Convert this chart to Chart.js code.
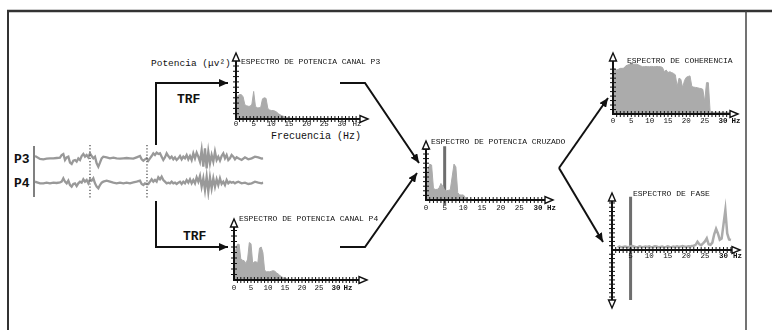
<!DOCTYPE html>
<html>
<head>
<meta charset="utf-8">
<script src="https://cdn.jsdelivr.net/npm/chart.js@4.4.1/dist/chart.umd.min.js"></script>
<style>
html, body { margin: 0; padding: 0; background: #fff; }
#stage { position: relative; width: 772px; height: 330px; overflow: hidden; font-family: "Liberation Mono", monospace; color: #111; }
#stage canvas { position: absolute; }
#stage svg { position: absolute; left: 0; top: 0; }
.lbl { position: absolute; white-space: nowrap; line-height: 1; }
.big { font-size: 13px; font-weight: bold; }
</style>
</head>
<body>
<div id="stage">
  <svg width="772" height="330">
    <defs>
      <marker id="ah" viewBox="0 0 9 8" refX="9" refY="4" markerWidth="9" markerHeight="8" markerUnits="userSpaceOnUse" orient="auto">
        <path d="M0,0 L9,4 L0,8 z" fill="#111"/>
      </marker>
    </defs>
    <!-- frame -->
    <path d="M7,11 H772" stroke="#333" stroke-width="2.5"/>
    <path d="M8,10 V330" stroke="#333" stroke-width="2"/>
    <path d="M746,11 V330" stroke="#444" stroke-width="1.5"/>
    <!-- connectors -->
    <polyline points="156,145 156,83 228,83" fill="none" stroke="#111" stroke-width="2" marker-end="url(#ah)"/>
    <polyline points="156,201 156,247 228,247" fill="none" stroke="#111" stroke-width="2" marker-end="url(#ah)"/>
    <polyline points="340,83 365,83 419,163" fill="none" stroke="#111" stroke-width="2" marker-end="url(#ah)"/>
    <polyline points="340,247 365,247 417,173" fill="none" stroke="#111" stroke-width="2" marker-end="url(#ah)"/>
    <polyline points="559,168 608,98" fill="none" stroke="#111" stroke-width="2" marker-end="url(#ah)"/>
    <polyline points="559,168 603,242" fill="none" stroke="#111" stroke-width="2" marker-end="url(#ah)"/>
  </svg>
  <div class="lbl" style="left:151px;top:58.5px;font-size:9.5px;">Potencia (&mu;v&sup2;)</div>
  <div class="lbl" style="left:271px;top:131.5px;font-size:10px;">Frecuencia (Hz)</div>
  <div class="lbl big" style="left:177px;top:93.3px;">TRF</div>
  <div class="lbl big" style="left:183px;top:230.3px;">TRF</div>
  <div class="lbl big" style="left:14px;top:153.3px;">P3</div>
  <div class="lbl big" style="left:14px;top:176.8px;">P4</div>
</div>
<script>
// frequency bins (Hz) shared by every spectrum
const freqHz = [0,0.5,1,1.5,2,2.5,3,3.5,4,4.5,5,5.5,6,6.5,7,7.5,8,8.5,9,9.5,10,10.5,11,11.5,12,12.5,13,13.5,14,14.5,15,15.5,16,16.5,17,17.5,18,18.5,19,19.5,20,20.5,21,21.5,22,22.5,23,23.5,24,24.5,25,25.5,26,26.5,27,27.5,28,28.5,29,29.5,30,30.5,31,31.5,32,32.5,33];

const powerP3 = [4.0,4.4,4.6,4.6,4.2,2.7,2.5,2.4,2.4,2.8,5.2,2.4,2.1,2.1,2.2,3.8,4.0,3.9,2.0,1.7,1.6,1.6,1.5,1.3,1.0,0.8,0.6,0.5,0.4,0.3,0.2,0.15,0.15,0.1,0.1,0.05,0.05,0,0,0,0,0,0,0,0,0,0,0,0,0,0,0,0,0,0,0,0,0,0,0,0,0,0,0,0,0,0];
const powerP4 = [1.0,5.5,6.5,6.5,3.8,3.6,3.5,3.0,3.8,6.8,6.6,3.0,3.3,3.3,3.1,5.8,6.0,5.0,1.8,1.5,1.5,1.5,1.6,1.7,1.6,1.3,1.1,0.8,0.6,0.4,0.3,0.25,0.15,0.1,0.05,0,0,0,0,0,0,0,0,0,0,0,0,0,0,0,0,0,0,0,0,0,0,0,0,0,0,0,0,0,0,0,0];
const crossPower = [1.0,6.5,7.8,7.6,2.5,2.3,2.3,2.6,3.6,3.0,2.2,2.0,2.1,2.2,5.0,7.8,7.2,1.6,1.1,1.1,1.1,0.6,0.2,0.05,0,0,0,0,0,0,0,0,0,0,0,0,0,0,0,0,0,0,0,0,0,0,0,0,0,0,0,0,0,0,0,0,0,0,0,0,0,0,0,0,0,0,0];
const coherence = [0.815,0.81,0.785,0.80,0.815,0.815,0.82,0.86,0.875,0.885,0.89,0.89,0.89,0.89,0.875,0.86,0.845,0.845,0.85,0.845,0.845,0.85,0.845,0.845,0.85,0.845,0.845,0.83,0.755,0.785,0.74,0.755,0.74,0.725,0.70,0.49,0.64,0.62,0.47,0.60,0.655,0.67,0.68,0.49,0.48,0.475,0.47,0.46,0.455,0.44,0.22,0.56,0.56,0.03,0.03,0.03,0.03,0.03,0.03,0.03,0.03,0.03,0.03,0.03,0.03,0.03,0.03];
const phaseDeg = [null,null,null,9,12,10,11,12,11,10,13,14,12,10,11,13,10,11,12,11,13,10,11,13,12,10,11,12,10,11,13,11,10,12,11,13,11,12,14,12,11,13,12,14,15,18,29,20,17,23,30,41,20,18,26,55,74,58,36,40,90,140,58,37,35,null,null];
const markerHz = 5;
const freqLabels = [0,5,10,15,20,25,30];
const phaseFreqLabels = [5,10,15,20,25,30];

// EEG segments P3 / P4 (sample index, amplitude)
const eegSample = [0,15,25,35,45,55,65,75,80,85,90,95,100,105,110,115,120,125,130,135,140,145,150,155,160,165,170,175,180,185,190,195,200,205,215,225,235,245,255,265,275,285,295,305,315,320,325,330,335,
  340,345,350,355,360,365,370,375,380,385,390,395,400,405,410,415,420,425,430,435,440,445,450,455,460,465,470,475,480,485,490,495,500,505,510,515,520,525,530,535,540,545,550,555,560,565,570,575,580,585,590,595,600,605,610,620,630,640,650,660,670,680,685];
const eegP3 = [7,-2,-3,-1,0,0,1,2,10,13,-5,3,5,-13,-17,-7,-5,-10,0,-5,7,13,5,10,3,15,7,0,5,-15,-25,-13,0,5,3,0,2,0,-1,0,1,0,-1,3,7,-3,-7,-3,0,
  -7,0,7,15,10,17,13,15,5,-5,3,15,7,0,5,-3,3,-5,0,7,-3,5,0,10,-3,7,-5,15,0,17,5,-10,25,-25,30,-30,20,-15,10,-10,20,-5,5,-7,7,15,0,10,-5,0,10,5,-3,3,0,-5,3,-3,0,5,3,-1,0];
const eegP4 = [3,-2,-2,0,-2,0,-1,1,3,13,3,-2,6,-7,-12,-4,-2,-10,-2,3,0,10,3,8,-2,10,6,13,-2,-12,-17,-7,0,3,6,3,0,-2,0,-2,0,-2,1,3,6,-4,-7,-2,-4,
  -4,3,10,3,8,3,16,10,18,8,3,-2,0,-2,3,-2,0,-4,0,3,-4,3,-2,8,0,10,-2,8,-2,16,3,20,-12,13,-22,18,-27,16,-17,13,-12,10,-7,13,-4,3,-7,8,-2,3,0,2,-2,1,3,-2,0,-4,-2,3,0,-2,0];
const epochSamples = [165, 336];

Chart.defaults.font.family = '"Liberation Mono", monospace';
const stage = document.getElementById('stage');
const FILL = '#ababab';
const MARK = '#6e6e6e';

// layout of each small spectrum panel (pixel geometry only)
const panels = [
  { id: 'p3', title: 'ESPECTRO DE POTENCIA CANAL P3', series: powerP3, labels: freqLabels,
    x0: 236, x30: 342, axisY: 119, tipTop: 53, tipRight: 368, yPx: 5.3, yStep: 1, yTickMax: 10,
    labelDy: 5, titleDx: 5, titleDy: 8.5, hzDx: 15, bold: false },
  { id: 'p4', title: 'ESPECTRO DE POTENCIA CANAL P4', series: powerP4, labels: freqLabels,
    x0: 234, x30: 336, axisY: 280, tipTop: 219, tipRight: 367, yPx: 5.5, yStep: 1, yTickMax: 9,
    labelDy: 8, titleDx: 5, titleDy: 0, hzDx: 12, bold: true },
  { id: 'cross', title: 'ESPECTRO DE POTENCIA CRUZADO', series: crossPower, labels: freqLabels,
    x0: 426, x30: 538, axisY: 200, tipTop: 141, tipRight: 553, yPx: 4.6, yStep: 1, yTickMax: 11,
    labelDy: 8, titleDx: 5, titleDy: 1, hzDx: 13.5, bold: true, marker: [11.7, -1.1] },
  { id: 'coh', title: 'ESPECTRO DE COHERENCIA', series: coherence, labels: freqLabels,
    x0: 613, x30: 723, axisY: 114, tipTop: 53, tipRight: 738, yPx: 56, yStep: 0.08, yTickMax: 0.8,
    labelDy: 7, titleDx: 14, titleDy: 7.5, hzDx: 13, bold: true, marker: [0.91, -0.02] },
  { id: 'phase', title: 'ESPECTRO DE FASE', series: phaseDeg, labels: phaseFreqLabels, line: true,
    x0: 612, x30: 723.5, axisY: 250, tipTop: 193, tipBottom: 308, tipRight: 740, yPx: 0.285, yStep: 15, yTickMax: 165, yTickMin: -180,
    labelDy: 6.5, titleDx: 21, titleDy: 1, hzDx: 14, bold: true, marker: [187, -175] }
];

function seg(ctx, x1, y1, x2, y2) {
  ctx.beginPath(); ctx.moveTo(x1, y1); ctx.lineTo(x2, y2); ctx.stroke();
}

function openArrow(ctx, x, y, dir) {
  const L = 8, H = 3.5;
  ctx.beginPath();
  if (dir === 'up') { ctx.moveTo(x, y); ctx.lineTo(x - H, y + L); ctx.lineTo(x + H, y + L); }
  else if (dir === 'down') { ctx.moveTo(x, y); ctx.lineTo(x - H, y - L); ctx.lineTo(x + H, y - L); }
  else { ctx.moveTo(x, y); ctx.lineTo(x - L, y - H); ctx.lineTo(x - L, y + H); }
  ctx.closePath();
  ctx.fillStyle = '#fff'; ctx.fill();
  ctx.lineWidth = 1.4; ctx.strokeStyle = '#111'; ctx.stroke();
}

function axesFor(p) {
  return {
    id: 'axes_' + p.id,
    afterDatasetsDraw(chart) {
      const { ctx } = chart;
      const x = chart.scales.x, y = chart.scales.y;
      const ox = x.getPixelForValue(0), oy = y.getPixelForValue(0);
      const top = y.getPixelForValue(y.max), right = x.getPixelForValue(x.max);
      const bottom = y.getPixelForValue(y.min);
      ctx.save();
      ctx.strokeStyle = '#111';
      ctx.lineWidth = 2;
      seg(ctx, ox, p.tipBottom ? bottom - 7 : oy + 1, ox, top + 7);
      seg(ctx, ox - 1, oy, right - 7, oy);
      ctx.lineWidth = 1;
      for (let v = 1; x.getPixelForValue(v) < right - 9; v++) {
        const px = x.getPixelForValue(v);
        seg(ctx, px, oy - 3, px, oy + 3);
      }
      const nUp = Math.round(p.yTickMax / p.yStep);
      for (let k = 1; k <= nUp; k++) {
        const py = y.getPixelForValue(k * p.yStep);
        seg(ctx, ox - 3, py, ox + 3, py);
      }
      if (p.yTickMin !== undefined) {
        const nDown = Math.round(-p.yTickMin / p.yStep);
        for (let k = 1; k <= nDown; k++) {
          const py = y.getPixelForValue(-k * p.yStep);
          seg(ctx, ox - 3, py, ox + 3, py);
        }
      }
      openArrow(ctx, ox, top, 'up');
      openArrow(ctx, right, oy, 'right');
      if (p.tipBottom) openArrow(ctx, ox, bottom, 'down');

      ctx.fillStyle = '#111';
      ctx.textAlign = 'center';
      ctx.textBaseline = 'middle';
      const ly = oy + p.labelDy;
      p.labels.forEach(v => {
        ctx.font = (p.bold && v === 30 ? 'bold ' : '') + '7.5px "Liberation Mono"';
        ctx.fillText(String(v), x.getPixelForValue(v), ly);
      });
      ctx.font = (p.bold ? 'bold ' : '') + '7.5px "Liberation Mono"';
      ctx.fillText('Hz', x.getPixelForValue(30) + p.hzDx, ly);

      ctx.textAlign = 'left';
      ctx.font = '8px "Liberation Mono"';
      ctx.fillText(p.title, ox + p.titleDx, top + p.titleDy);
      ctx.restore();
    }
  };
}

function makePanel(p) {
  const padL = 12, padT = 4, padR = 30;
  const padB = p.tipBottom ? 6 : 16;
  const bottomPx = p.tipBottom || p.axisY;
  const canvas = document.createElement('canvas');
  canvas.width = (p.tipRight - p.x0) + padL + padR;
  canvas.height = (bottomPx - p.tipTop) + padT + padB;
  canvas.style.left = (p.x0 - padL) + 'px';
  canvas.style.top = (p.tipTop - padT) + 'px';
  stage.appendChild(canvas);

  const xMax = 30 * (p.tipRight - p.x0) / (p.x30 - p.x0);
  const yMax = (p.axisY - p.tipTop) / p.yPx;
  const yMin = -(bottomPx - p.axisY) / p.yPx;

  const datasets = [{
    data: freqHz.map((f, i) => ({ x: f, y: p.series[i] })),
    borderColor: FILL,
    backgroundColor: FILL,
    borderWidth: p.line ? 2.5 : 1,
    fill: p.line ? false : 'origin',
    pointRadius: 0,
    tension: 0
  }];
  if (p.marker) {
    datasets.push({
      data: [{ x: markerHz, y: p.marker[0] }, { x: markerHz, y: p.marker[1] }],
      borderColor: MARK,
      borderWidth: 3,
      pointRadius: 0,
      fill: false,
      clip: false
    });
  }

  new Chart(canvas, {
    type: 'line',
    data: { datasets },
    options: {
      responsive: false,
      animation: false,
      events: [],
      layout: { padding: { left: padL, top: padT, right: padR, bottom: padB } },
      scales: {
        x: { type: 'linear', display: false, min: 0, max: xMax },
        y: { type: 'linear', display: false, min: yMin, max: yMax }
      },
      plugins: { legend: { display: false }, tooltip: { enabled: false } }
    },
    plugins: [axesFor(p)]
  });
}

panels.forEach(makePanel);

// EEG traces
const eegMarks = {
  id: 'eegMarks',
  afterDatasetsDraw(chart) {
    const { ctx, chartArea } = chart;
    const x = chart.scales.x;
    ctx.save();
    ctx.strokeStyle = '#808080';
    ctx.lineWidth = 2;
    seg(ctx, chartArea.left - 1, chartArea.top + 6, chartArea.left - 1, chartArea.bottom - 3);
    ctx.strokeStyle = '#666';
    ctx.lineWidth = 1.5;
    ctx.setLineDash([1.2, 2]);
    epochSamples.forEach(s => {
      const px = x.getPixelForValue(s);
      seg(ctx, px, chartArea.top + 5, px, chartArea.bottom - 2);
    });
    ctx.restore();
  }
};

const eegCanvas = document.createElement('canvas');
eegCanvas.width = 236;
eegCanvas.height = 62;
eegCanvas.style.left = '30px';
eegCanvas.style.top = '140px';
stage.appendChild(eegCanvas);

new Chart(eegCanvas, {
  type: 'line',
  data: {
    datasets: [
      { label: 'P3', data: eegSample.map((s, i) => ({ x: s, y: eegP3[i] })), yAxisID: 'y',
        borderColor: '#999', borderWidth: 2.3, pointRadius: 0, tension: 0, fill: false },
      { label: 'P4', data: eegSample.map((s, i) => ({ x: s, y: eegP4[i] })), yAxisID: 'y2',
        borderColor: '#999', borderWidth: 2.3, pointRadius: 0, tension: 0, fill: false }
    ]
  },
  options: {
    responsive: false,
    animation: false,
    events: [],
    layout: { padding: { left: 5, top: 0, right: 2.7, bottom: 2 } },
    scales: {
      x: { type: 'linear', display: false, min: 0, max: 685 },
      y: { display: false, min: -125, max: 55 },
      y2: { display: false, min: -52, max: 128 }
    },
    plugins: { legend: { display: false }, tooltip: { enabled: false } }
  },
  plugins: [eegMarks]
});
</script>
</body>
</html>
